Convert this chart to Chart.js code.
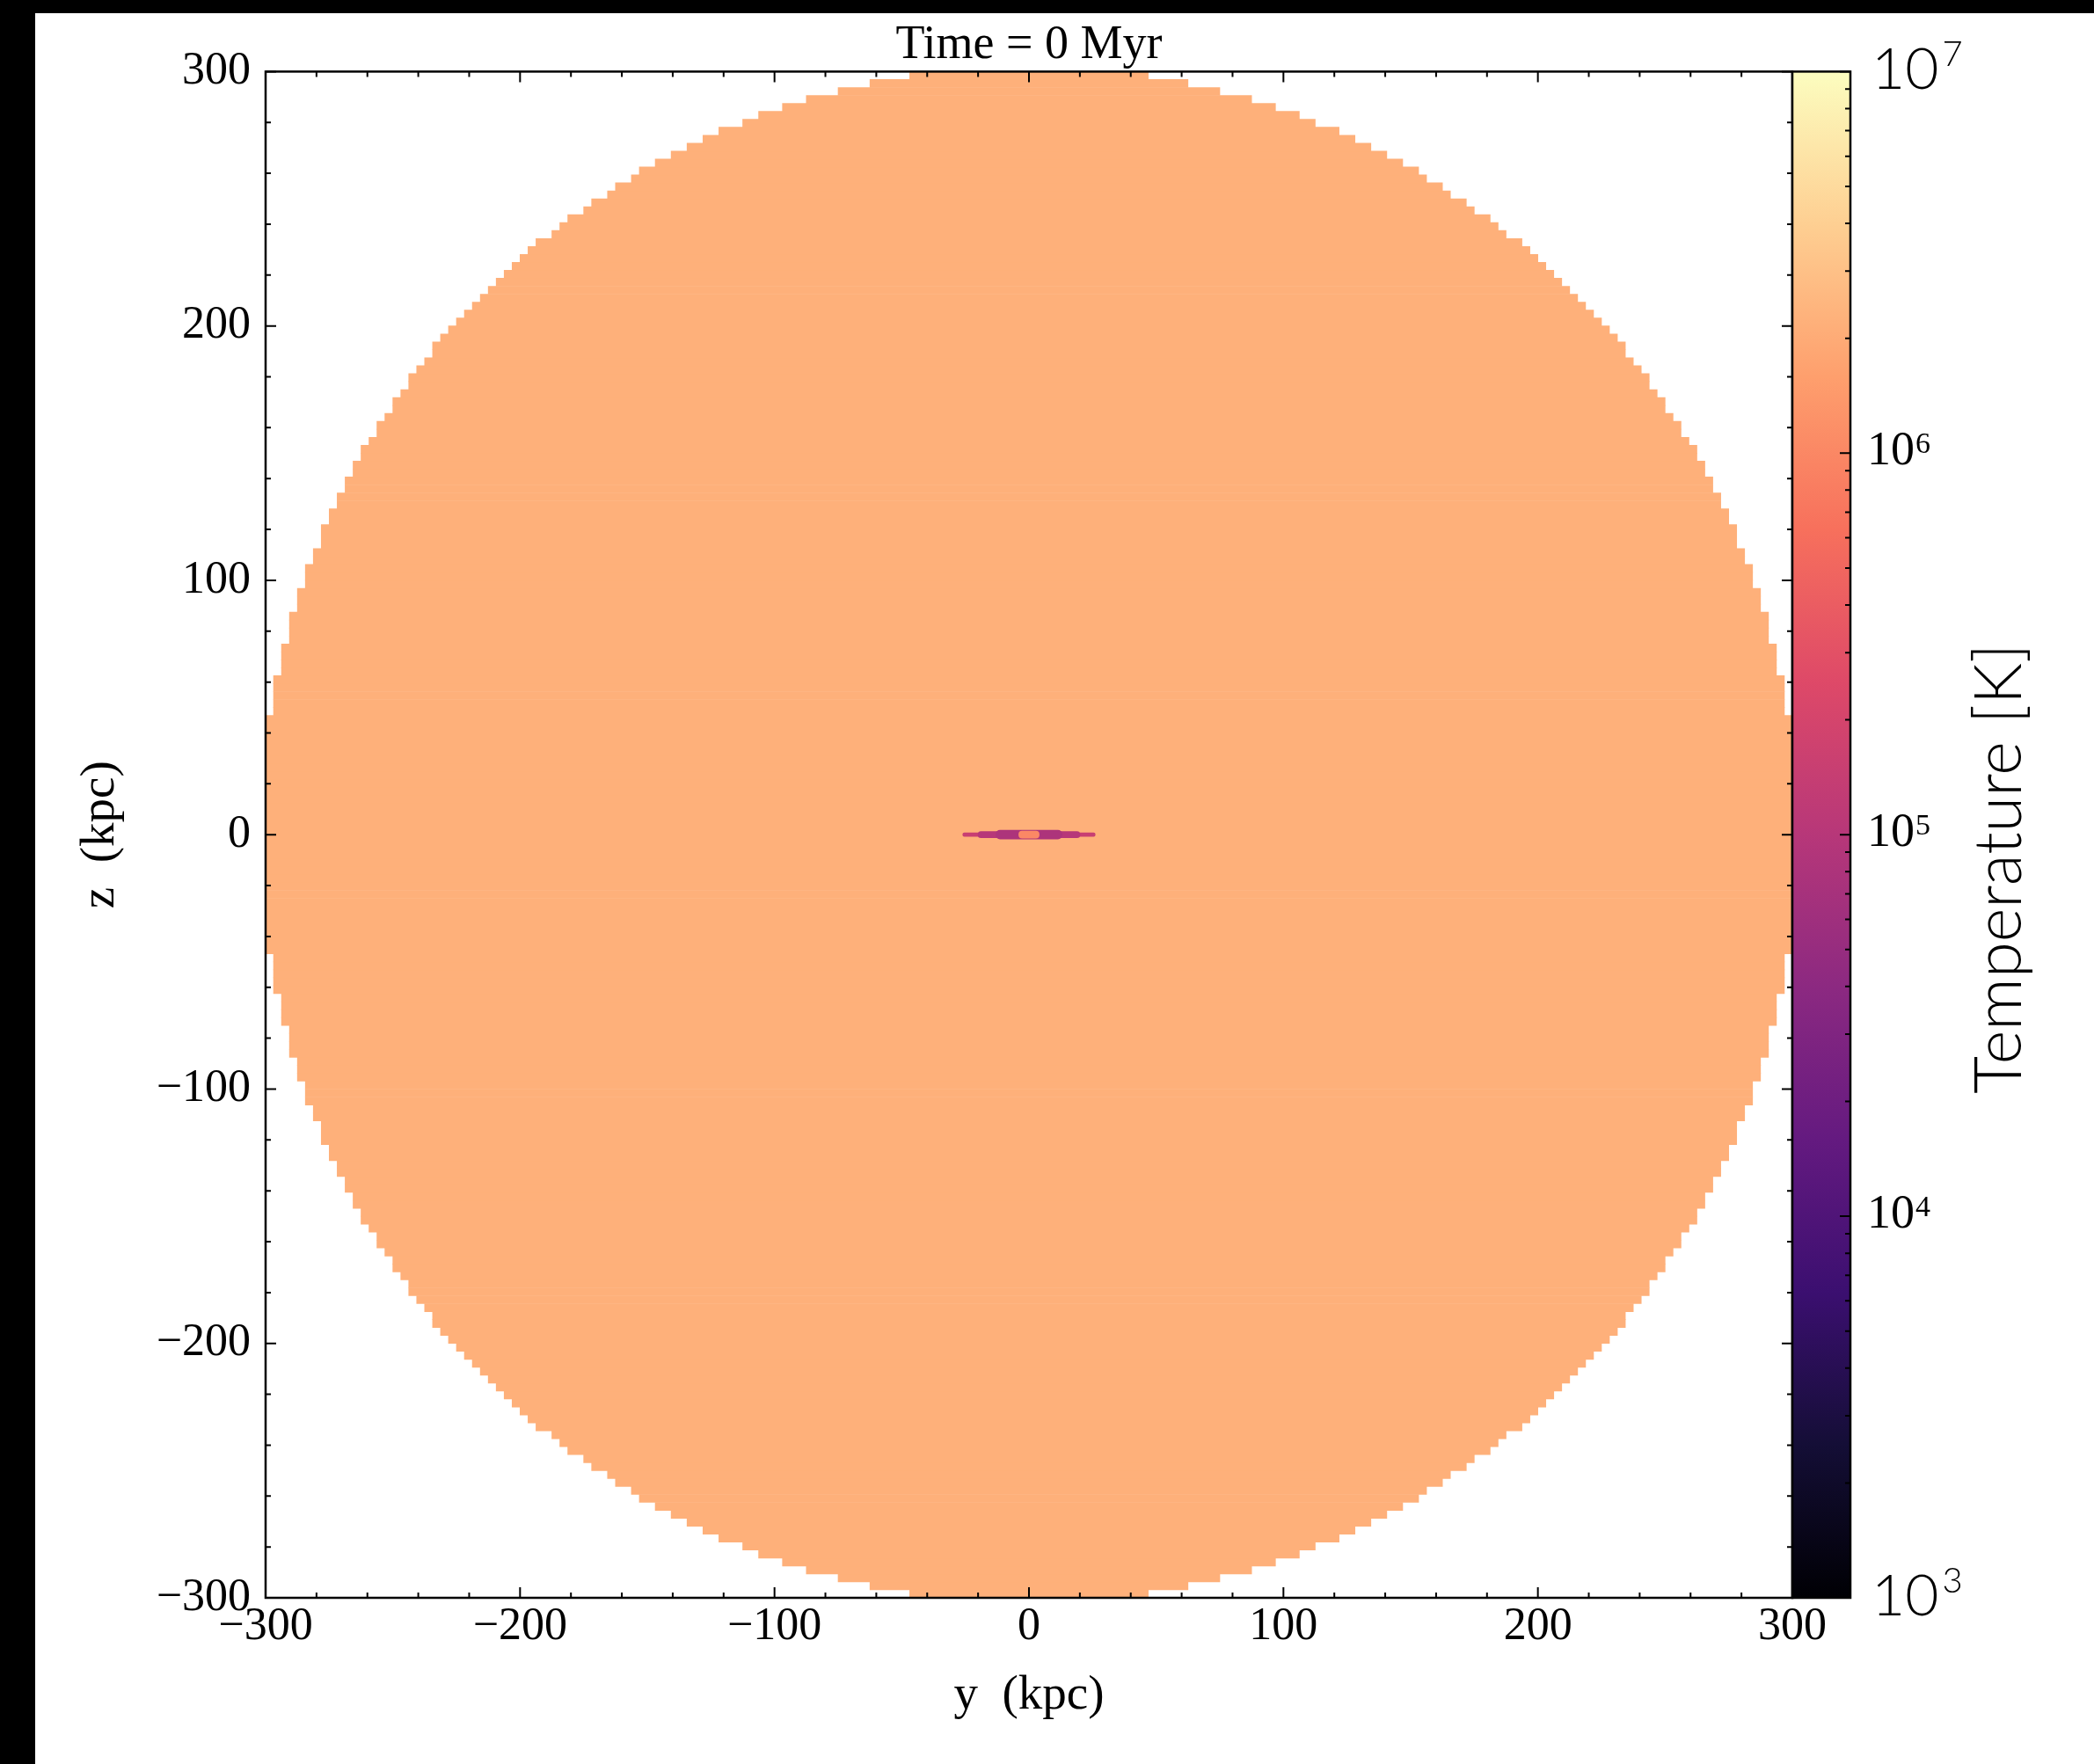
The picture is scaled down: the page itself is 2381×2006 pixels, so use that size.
<!DOCTYPE html>
<html>
<head>
<meta charset="utf-8">
<script src="https://cdn.jsdelivr.net/npm/chart.js@4.4.1/dist/chart.umd.min.js"></script>
<style>
html, body { margin: 0; padding: 0; background: #fff; overflow: hidden; }
#caixa { position: absolute; left: 0; top: 0; width: 2381px; height: 2006px; }
#faixaEsq { position: absolute; left: 0; top: 0; width: 40px; height: 2006px; background: #000; }
#faixaTopo { position: absolute; left: 0; top: 0; width: 2381px; height: 15px; background: #000; }
</style>
</head>
<body>
<div id="caixa"><canvas id="grafico"></canvas></div>
<div id="faixaEsq"></div>
<div id="faixaTopo"></div>
<script>
// halo de gas quente (corte no plano y-z)
var raioHalo = 302;           // kpc
var celulaGrade = 3.125;      // kpc
var temperaturaHalo = 2.2e6;  // K

// disco da galaxia no centro (camadas de fora para dentro)
var discoMeioComprimento = [26, 20, 13, 4];          // kpc
var discoTemperatura = [1.5e5, 1.0e5, 8.0e4, 1.0e6]; // K

// eixos
var limiteEixo = 300;
var passoMenor = 20;
var passoMaior = 100;
var decadasBarra = [3, 4, 5, 6, 7];   // 10^3 ... 10^7 K
var multiplosMenores = [2, 3, 4, 5, 6, 7, 8, 9];

// mapa de cores magma
var coresMagma = ['#000004', '#140e36', '#3b0f70', '#641a80', '#8c2981', '#b73779',
                  '#de4968', '#f7705c', '#fe9f6d', '#fecf92', '#fcfdbf'];

function hexRgb(h) {
    return [parseInt(h.substr(1, 2), 16), parseInt(h.substr(3, 2), 16), parseInt(h.substr(5, 2), 16)];
}

function corTemperatura(T) {
    var t = (Math.log10(T) - decadasBarra[0]) / (decadasBarra[decadasBarra.length - 1] - decadasBarra[0]);
    t = Math.min(Math.max(t, 0), 1);
    var pos = t * (coresMagma.length - 1);
    var i = Math.min(Math.floor(pos), coresMagma.length - 2);
    var f = pos - i;
    var a = hexRgb(coresMagma[i]), b = hexRgb(coresMagma[i + 1]);
    return 'rgb(' + Math.round(a[0] + (b[0] - a[0]) * f) + ',' +
        Math.round(a[1] + (b[1] - a[1]) * f) + ',' +
        Math.round(a[2] + (b[2] - a[2]) * f) + ')';
}

// linhas de celulas da grade cujo centro cai dentro da esfera
var linhasHalo = [];
for (var k = 0; k < 2 * limiteEixo / celulaGrade; k++) {
    var zc = -limiteEixo + (k + 0.5) * celulaGrade;
    if (Math.abs(zc) > raioHalo) continue;
    var s = Math.sqrt(raioHalo * raioHalo - zc * zc);
    var meia = Math.min(Math.floor(s / celulaGrade + 0.5) * celulaGrade, limiteEixo);
    if (meia > 0) linhasHalo.push({y: zc, x: [-meia, meia]});
}

var ticksBarra = [];
decadasBarra.forEach(function (d, i) {
    ticksBarra.push({value: Math.pow(10, d), major: true});
    if (i < decadasBarra.length - 1) {
        multiplosMenores.forEach(function (m) { ticksBarra.push({value: m * Math.pow(10, d)}); });
    }
});

function rotuloEixo(v) {
    if (v % passoMaior !== 0) return '';
    return v < 0 ? '\u2212' + Math.abs(v) : String(v);
}

var datasets = [{
    label: 'halo',
    data: linhasHalo,
    yAxisID: 'y',
    backgroundColor: corTemperatura(temperaturaHalo),
    borderWidth: 0,
    barPercentage: 1,
    categoryPercentage: 1,
    grouped: false,
    order: 10
}];
var espessuraPx = [4, 7, 10, 8];
discoMeioComprimento.forEach(function (L, i) {
    datasets.push({
        label: 'disco ' + i,
        data: [{y: 0, x: [-L, L]}],
        yAxisID: 'yDisco',
        backgroundColor: corTemperatura(discoTemperatura[i]),
        borderWidth: 0,
        borderSkipped: false,
        borderRadius: 6,
        barThickness: espessuraPx[i],
        grouped: false,
        order: 4 - i
    });
});

var serif = '"Liberation Serif", "Times New Roman", serif';

var moldura = {
    id: 'moldura',
    afterDraw: function (chart) {
        var ctx = chart.ctx, a = chart.chartArea;
        var sx = chart.scales.x, sy = chart.scales.y, cb = chart.scales.cbar;
        ctx.save();
        ctx.strokeStyle = '#000';
        ctx.lineCap = 'butt';

        // ticks para dentro nos quatro lados
        ctx.lineWidth = 2;
        ctx.beginPath();
        sx.ticks.forEach(function (t) {
            var px = sx.getPixelForValue(t.value);
            var len = t.value % passoMaior === 0 ? 12 : 6;
            ctx.moveTo(px, a.bottom); ctx.lineTo(px, a.bottom - len);
            ctx.moveTo(px, a.top); ctx.lineTo(px, a.top + len);
        });
        sy.ticks.forEach(function (t) {
            var py = sy.getPixelForValue(t.value);
            var len = t.value % passoMaior === 0 ? 12 : 6;
            ctx.moveTo(a.left, py); ctx.lineTo(a.left + len, py);
            ctx.moveTo(a.right, py); ctx.lineTo(a.right - len, py);
        });
        ctx.stroke();
        ctx.lineWidth = 2.5;
        ctx.strokeRect(a.left, a.top, a.right - a.left, a.bottom - a.top);

        // barra de cores
        var bx0 = cb.left, bx1 = cb.left + 66;
        var yTopo = cb.getPixelForValue(cb.max), yBase = cb.getPixelForValue(cb.min);
        var grad = ctx.createLinearGradient(0, yBase, 0, yTopo);
        coresMagma.forEach(function (c, i) { grad.addColorStop(i / (coresMagma.length - 1), c); });
        ctx.fillStyle = grad;
        ctx.fillRect(bx0, yTopo, bx1 - bx0, yBase - yTopo);
        ctx.lineWidth = 2;
        ctx.beginPath();
        cb.ticks.forEach(function (t) {
            var py = cb.getPixelForValue(t.value);
            var len = t.major ? 12 : 6;
            ctx.moveTo(bx1, py); ctx.lineTo(bx1 - len, py);
        });
        ctx.stroke();
        ctx.lineWidth = 2.5;
        ctx.strokeRect(bx0, yTopo, bx1 - bx0, yBase - yTopo);

        // rotulos da barra
        ctx.fillStyle = '#000';
        ctx.textAlign = 'left';
        ctx.textBaseline = 'alphabetic';
        cb.ticks.forEach(function (t) {
            if (!t.major) return;
            var py = cb.getPixelForValue(t.value);
            var e = Math.round(Math.log10(t.value));
            var ponta = e === decadasBarra[0] || e === decadasBarra[decadasBarra.length - 1];
            var x, base, fb, fe, sobe, gap;
            if (ponta) {
                x = bx1 + 24; base = py + 20;
                fb = '300 66px Lato, "Open Sans", sans-serif';
                fe = '300 40px Lato, "Open Sans", sans-serif';
                sobe = 26; gap = 4;
            } else {
                x = bx1 + 19; base = py + 13;
                fb = '54px ' + serif; fe = '34px ' + serif;
                sobe = 13; gap = 1;
            }
            ctx.font = fb;
            ctx.fillText('10', x, base);
            var w = ctx.measureText('10').width;
            ctx.font = fe;
            ctx.fillText(String(e), x + w + gap, base - sobe);
        });

        // titulo da barra
        ctx.translate(2274, 988);
        ctx.rotate(-Math.PI / 2);
        ctx.textAlign = 'center';
        ctx.textBaseline = 'middle';
        ctx.font = '300 74px Lato, "Open Sans", sans-serif';
        ctx.fillText('Temperature [K]', 0, 0);
        ctx.restore();
    }
};

var ctx = document.getElementById('grafico').getContext('2d');
var chart = new Chart(ctx, {
    type: 'bar',
    data: { datasets: datasets },
    options: {
        indexAxis: 'y',
        responsive: true,
        maintainAspectRatio: false,
        animation: false,
        layout: { padding: 0 },
        plugins: {
            legend: { display: false },
            tooltip: { enabled: false },
            title: {
                display: true,
                fullSize: false,
                text: 'Time = 0 Myr',
                color: '#000',
                font: { family: serif, size: 54, weight: 'normal', lineHeight: 1.1 },
                padding: { top: 22, bottom: 0 }
            }
        },
        scales: {
            x: {
                type: 'linear', position: 'bottom',
                min: -limiteEixo, max: limiteEixo,
                grid: { display: false, drawTicks: false },
                border: { display: false },
                ticks: {
                    stepSize: passoMenor, autoSkip: false, maxRotation: 0, padding: 2,
                    color: '#000', font: { family: serif, size: 52, lineHeight: 1.2 },
                    callback: rotuloEixo
                },
                title: {
                    display: true, text: 'y  (kpc)', color: '#000',
                    font: { family: serif, size: 55, lineHeight: 1.2 },
                    padding: { top: 0, bottom: 44 }
                },
                afterFit: function (s) { s.height = 189; }
            },
            y: {
                type: 'linear', position: 'left',
                min: -limiteEixo, max: limiteEixo,
                offset: false,
                grid: { display: false, drawTicks: false, offset: false },
                border: { display: false },
                ticks: {
                    stepSize: passoMenor, autoSkip: false, padding: 17,
                    color: '#000', font: { family: serif, size: 52, lineHeight: 1.2 },
                    callback: rotuloEixo
                },
                title: {
                    display: true, text: 'z  (kpc)', color: '#000',
                    font: { family: serif, size: 55, lineHeight: 1.2 },
                    padding: { top: 82, bottom: 0 }
                },
                afterFit: function (s) { s.width = 302; }
            },
            yDisco: {
                type: 'linear', display: false,
                min: -limiteEixo, max: limiteEixo,
                offset: false
            },
            cbar: {
                type: 'logarithmic', position: 'right', axis: 'y',
                min: Math.pow(10, decadasBarra[0]),
                max: Math.pow(10, decadasBarra[decadasBarra.length - 1]),
                grid: { display: false, drawTicks: false },
                border: { display: false },
                ticks: { display: false },
                afterBuildTicks: function (s) {
                    s.ticks = ticksBarra.map(function (t) { return {value: t.value, major: !!t.major}; });
                },
                afterFit: function (s) { s.width = 343; }
            }
        }
    },
    plugins: [moldura]
});
</script>
</body>
</html>
